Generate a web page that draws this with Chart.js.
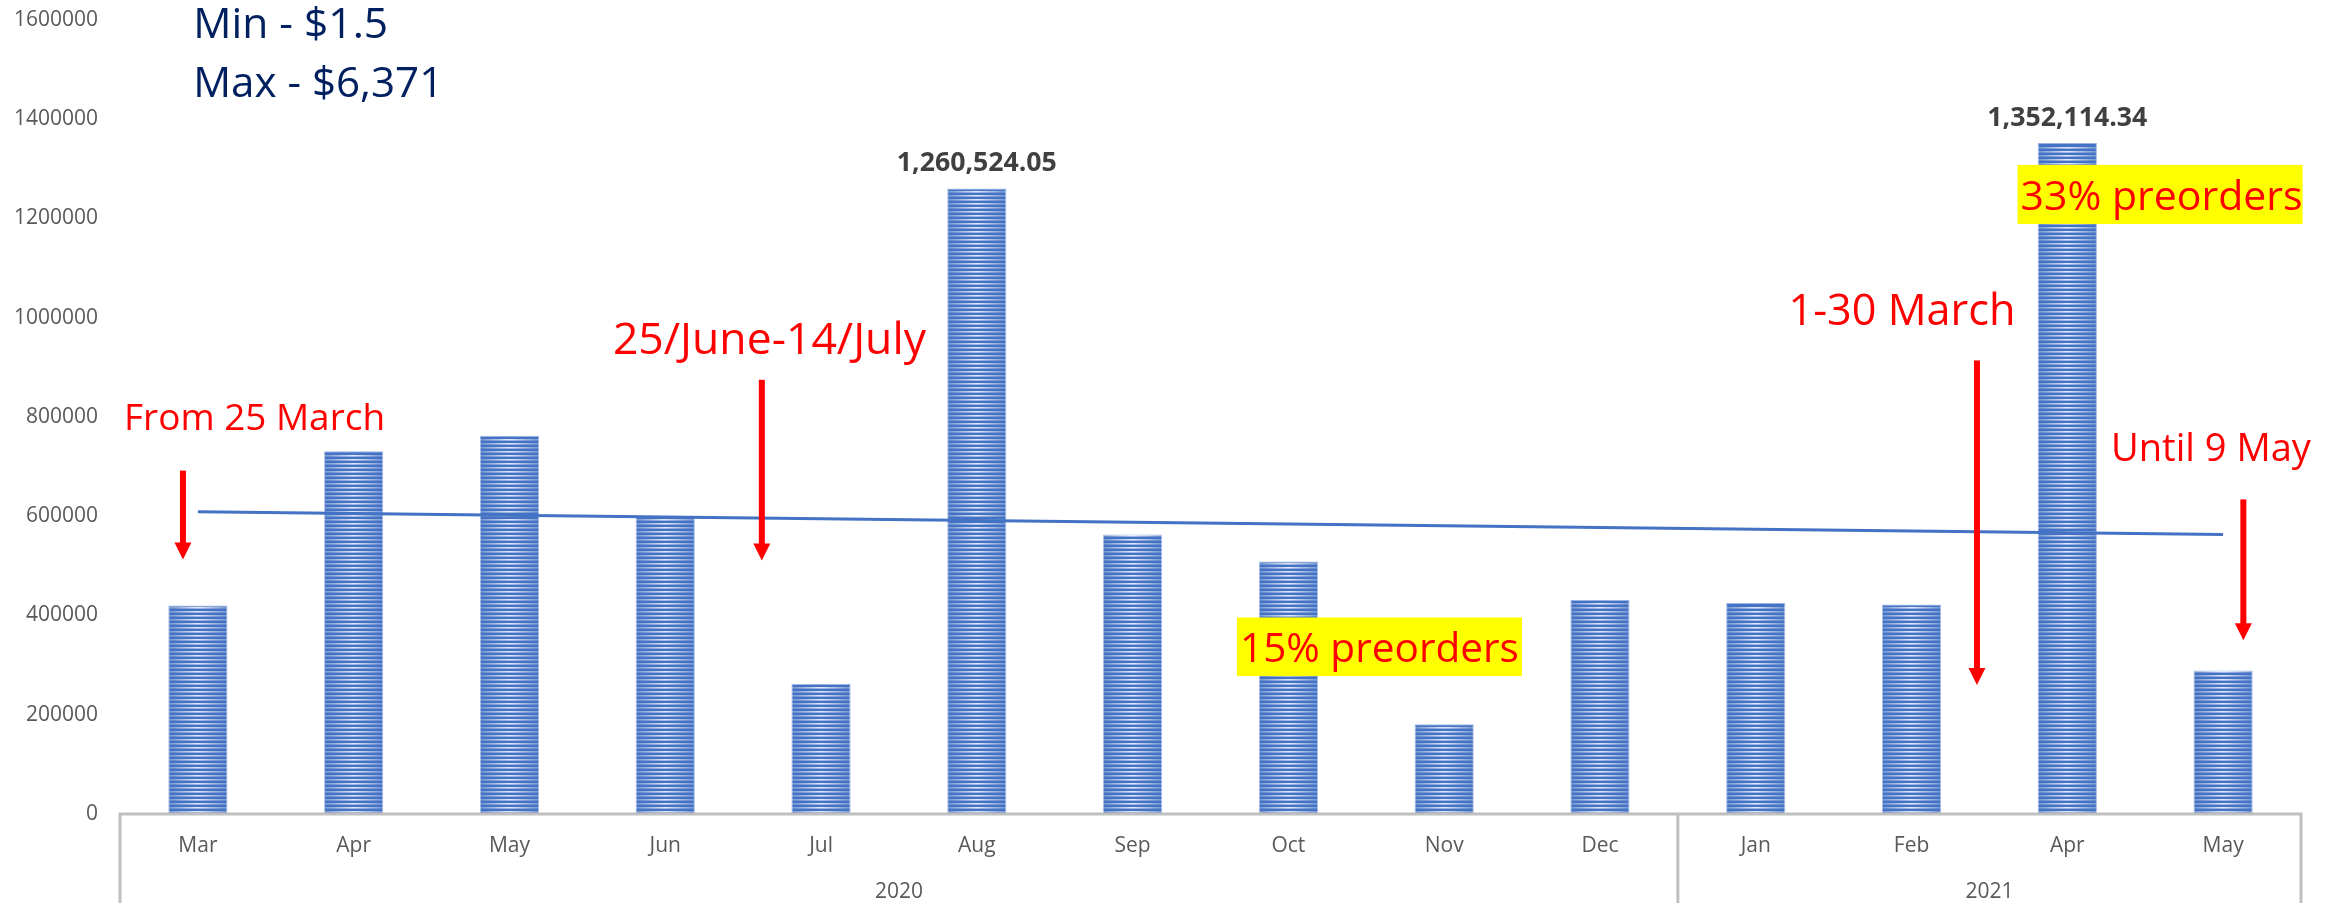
<!DOCTYPE html>
<html><head><meta charset="utf-8">
<script src="https://cdn.jsdelivr.net/npm/chart.js@4.4.1/dist/chart.umd.min.js"></script>
<style>html,body{margin:0;padding:0;background:#fff;}#wrap{width:2338px;height:903px;position:relative;}</style>
</head><body><div id="wrap"><canvas id="c" width="2338" height="903"></canvas></div>
<script>
// ---- data ----
const months = ['Mar','Apr','May','Jun','Jul','Aug','Sep','Oct','Nov','Dec','Jan','Feb','Apr','May'];
const years = ['2020','2021'];
const yearSpans = [10, 4];
const revenue = [420000, 731000, 762000, 600000, 262000, 1260524.05, 563000, 509000, 181000, 431000, 425000, 422000, 1352114.34, 289000];
const valueLabels = [null,null,null,null,null,'1,260,524.05',null,null,null,null,null,null,'1,352,114.34',null];
const yTickMax = 1600000;
const yTickStep = 200000;

// linear trendline (least squares) derived from the revenue series
function linearFit(vals){
  const n = vals.length; let sx=0, sy=0, sxx=0, sxy=0;
  vals.forEach((v,i)=>{ sx+=i; sy+=v; sxx+=i*i; sxy+=i*v; });
  const b = (n*sxy - sx*sy)/(n*sxx - sx*sx); const a = (sy - b*sx)/n;
  return vals.map((_,i)=>a + b*i);
}
const trend = linearFit(revenue);

// ---- annotations (anchored in category index / value space) ----
const FONT = '"Open Sans", "Noto Sans", sans-serif';
const texts = [
  {text:'Min - $1.5', at:[-0.03, 1564000], width:195, color:'#002060'},
  {text:'Max - $6,371', at:[-0.03, 1445000], width:250, color:'#002060'},
  {text:'From 25 March', at:[-0.474, 773000], width:261, color:'#FF0000'},
  {text:'25/June-14/July', at:[2.664, 926000], width:313, color:'#FF0000'},
  {text:'1-30 March', at:[10.21, 986000], width:227, color:'#FF0000'},
  {text:'Until 9 May', at:[12.28, 712000], width:200, color:'#FF0000'},
  {text:'15% preorders', at:[6.689, 306000], width:279, color:'#FF0000', box:[396000, 278000], boxW:285},
  {text:'33% preorders', at:[11.70, 1218000], width:282, color:'#FF0000', box:[1308000, 1189000], boxW:285}
];
const arrows = [
  {x:-0.096, from:692000, to:513000},
  {x:3.62, from:875000, to:511000},
  {x:11.42, from:914000, to:260000},
  {x:13.13, from:634000, to:350000}
];

function fitFont(ctx, text, width, weight){
  ctx.font = weight + ' 100px ' + FONT;
  const w = ctx.measureText(text).width;
  const size = 100*width/w;
  ctx.font = weight + ' ' + size.toFixed(2) + 'px ' + FONT;
  return size;
}

const decor = {
  id:'decor',
  afterDatasetDraw(chart, args){
    if (args.index !== 0) return;
    const ctx = chart.ctx;
    args.meta.data.forEach(el=>{
      const p = el.getProps(['x','y','base','width'], true);
      const left = p.x - p.width/2, top = Math.min(p.y,p.base), bot = Math.max(p.y,p.base);
      ctx.save();
      ctx.beginPath(); ctx.rect(left, top, p.width, bot-top); ctx.clip();
      const g = ctx.createLinearGradient(left,0,left+p.width,0);
      g.addColorStop(0,'rgba(255,255,255,0.25)');
      g.addColorStop(0.5,'rgba(255,255,255,0.85)');
      g.addColorStop(1,'rgba(255,255,255,0.25)');
      ctx.fillStyle = g;
      for (let yy = bot - 3; yy > top; yy -= 4) ctx.fillRect(left, yy, p.width, 1.6);
      ctx.restore();
    });
  },
  afterDraw(chart){
    const ctx = chart.ctx, xs = chart.scales.x, ys = chart.scales.y, ca = chart.chartArea;
    const H = chart.height;
    const xAt = f => xs.getPixelForValue(0) + f*(xs.getPixelForValue(1)-xs.getPixelForValue(0));
    // category axis frame
    ctx.save();
    ctx.strokeStyle = '#BFBFBF'; ctx.lineWidth = 3;
    ctx.beginPath();
    ctx.moveTo(ca.left, H); ctx.lineTo(ca.left, ca.bottom); ctx.lineTo(ca.right, ca.bottom); ctx.lineTo(ca.right, H);
    let idx = 0; const bounds = [ca.left];
    yearSpans.forEach((s,i)=>{ idx += s; if (i < yearSpans.length-1){ const bx = xAt(idx-0.5); bounds.push(bx); ctx.moveTo(bx, ca.bottom); ctx.lineTo(bx, H);} });
    bounds.push(ca.right);
    ctx.stroke();
    // year labels
    ctx.fillStyle = '#595959'; ctx.font = '21px ' + FONT; ctx.textAlign = 'center'; ctx.textBaseline = 'middle';
    years.forEach((yr,i)=>{ ctx.fillText(yr, (bounds[i]+bounds[i+1])/2, ca.bottom + 78); });
    // value labels
    ctx.fillStyle = '#404040'; ctx.textBaseline = 'alphabetic';
    valueLabels.forEach((t,i)=>{
      if (!t) return;
      fitFont(ctx, t, 160, 'bold');
      ctx.fillText(t, xs.getPixelForValue(i), ys.getPixelForValue(revenue[i]) - 17);
    });
    // arrows
    ctx.fillStyle = '#FF0000';
    arrows.forEach(a=>{
      const x = xAt(a.x), y0 = ys.getPixelForValue(a.from), y1 = ys.getPixelForValue(a.to);
      const hl = 17, hw = 8.5, sw = 3;
      ctx.fillRect(x - sw, y0, sw*2, (y1 - y0) - hl + 1);
      ctx.beginPath(); ctx.moveTo(x - hw, y1 - hl); ctx.lineTo(x + hw, y1 - hl); ctx.lineTo(x, y1); ctx.closePath(); ctx.fill();
    });
    // texts
    ctx.textAlign = 'left'; ctx.textBaseline = 'alphabetic';
    texts.forEach(t=>{
      const x = xAt(t.at[0]), y = ys.getPixelForValue(t.at[1]);
      if (t.box){
        const bt = ys.getPixelForValue(t.box[0]), bb = ys.getPixelForValue(t.box[1]);
        ctx.fillStyle = '#FFFF00'; ctx.fillRect(x - 3, bt, t.boxW, bb - bt);
      }
      fitFont(ctx, t.text, t.width, 'normal');
      ctx.fillStyle = t.color;
      ctx.fillText(t.text, x, y);
    });
    ctx.restore();
  }
};

new Chart(document.getElementById('c'), {
  type:'bar',
  data:{
    labels: months,
    datasets:[
      {type:'bar', data: revenue, backgroundColor:'#4472C4', borderColor:'#9DB5E2', borderWidth:1, barPercentage:1, categoryPercentage:0.38, order:1},
      {type:'line', data: trend, borderColor:'#4472C4', borderWidth:3, pointRadius:0, tension:0, order:0}
    ]
  },
  options:{
    responsive:false, animation:false, devicePixelRatio:1,
    layout:{padding:{top:20, right:37, left:0, bottom:0}},
    plugins:{legend:{display:false}, tooltip:{enabled:false}},
    scales:{
      x:{
        grid:{display:false, drawTicks:false}, border:{display:false},
        ticks:{color:'#595959', font:{family:FONT, size:21}, padding:19, maxRotation:0, autoSkip:false},
        afterFit(s){ s.height = 89; s.paddingLeft = 0; s.paddingRight = 0; }
      },
      y:{
        min:0, max:yTickMax,
        grid:{display:false, drawTicks:false}, border:{display:false},
        ticks:{stepSize:yTickStep, color:'#595959', font:{family:FONT, size:21}, padding:22, callback:v=>String(v)},
        afterFit(s){ s.width = 120; s.paddingTop = 0; s.paddingBottom = 0; }
      }
    }
  },
  plugins:[decor]
});
</script>
</body></html>
